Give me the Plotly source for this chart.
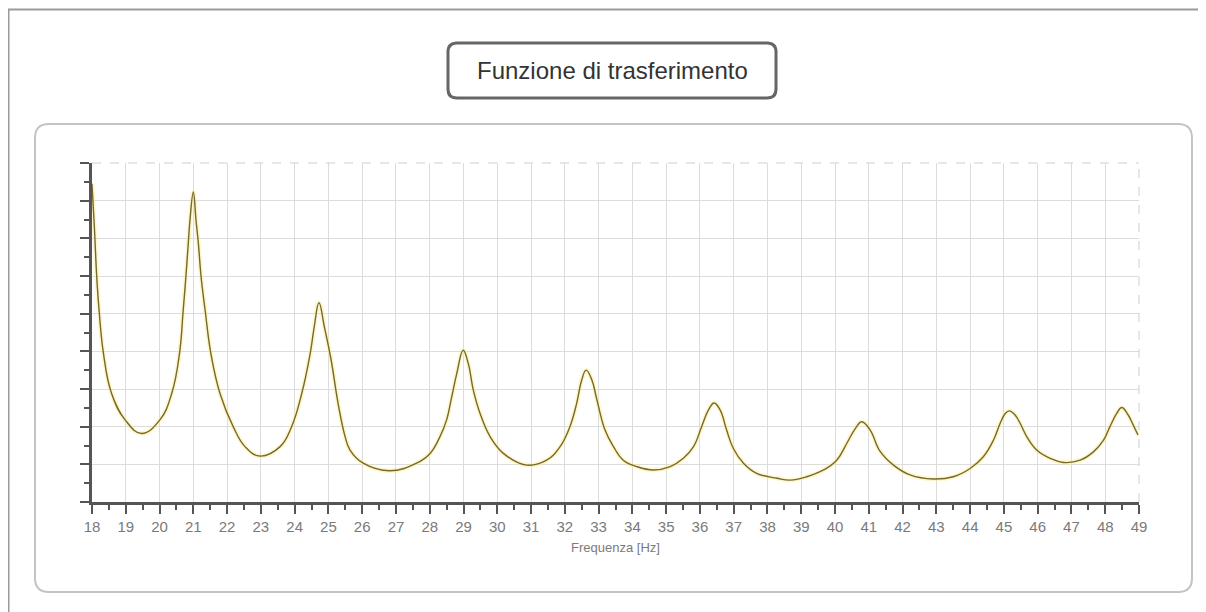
import plotly.graph_objects as go

# ---- data ----
freq_hz = [18.00, 18.07, 18.14, 18.21, 18.34, 18.58, 18.98, 19.47,
           20.01, 20.36, 20.59, 20.70, 20.78, 20.85, 20.90, 21.00,
           21.08, 21.15, 21.23, 21.35, 21.52, 21.79, 22.18, 22.53, 22.97,
           23.57, 23.91, 24.21, 24.46, 24.58, 24.72,
           24.88, 25.08, 25.29, 25.49, 25.64, 26.03, 26.82,
           27.61, 28.01, 28.30, 28.50, 28.65, 28.80, 28.99,
           29.14, 29.29, 29.49, 29.79, 30.18, 30.87,
           31.46, 31.86, 32.15, 32.35, 32.50, 32.63,
           32.80, 32.95, 33.19, 33.44, 33.73, 34.13, 34.62,
           35.12, 35.51, 35.81, 36.05, 36.25, 36.42,
           36.60, 36.79, 36.99, 37.29, 37.68, 38.28, 38.67,
           39.16, 39.66, 40.05, 40.35, 40.60, 40.79,
           41.04, 41.33, 41.73, 42.22, 42.91,
           43.50, 44.00, 44.39, 44.69, 44.89, 45.04, 45.16,
           45.33, 45.48, 45.68, 45.97, 46.37, 46.76,
           47.26, 47.65, 47.95, 48.14, 48.34, 48.49,
           48.68, 48.83, 48.97]

amplitude = [8.45, 7.30, 5.98, 5.09, 3.94, 2.88, 2.18, 1.82,
             2.18, 2.88, 3.94, 5.09, 5.98, 6.86, 7.48, 8.23,
             7.48, 6.86, 5.98, 5.09, 3.94, 2.88, 2.00, 1.47, 1.22,
             1.47, 2.00, 2.88, 3.94, 4.65, 5.29,
             4.65, 3.77, 2.60, 1.75, 1.38, 1.03, 0.83,
             1.03, 1.29, 1.73, 2.18, 2.79, 3.41, 4.03,
             3.68, 2.97, 2.35, 1.73, 1.29, 0.98,
             1.11, 1.47, 2.00, 2.62, 3.24, 3.50,
             3.24, 2.71, 1.91, 1.47, 1.11, 0.94, 0.85,
             0.94, 1.16, 1.47, 2.00, 2.44, 2.63,
             2.44, 1.91, 1.42, 1.03, 0.76, 0.63, 0.58,
             0.67, 0.85, 1.11, 1.56, 1.95, 2.13,
             1.91, 1.35, 0.98, 0.72, 0.61,
             0.67, 0.89, 1.20, 1.64, 2.09, 2.35, 2.42,
             2.31, 2.09, 1.73, 1.38, 1.16, 1.05,
             1.11, 1.33, 1.64, 2.00, 2.35, 2.51,
             2.31, 2.04, 1.78]

x_ticks = list(range(18, 50))
x_tick_labels = [str(v) for v in x_ticks]
title_text = "Funzione di trasferimento"
x_title = "Frequenza [Hz]"

# ---- layout geometry (window pixels; the page body adds an 8px offset) ----
OFF = 8
WIN_W, WIN_H = 1206, 612
W, H = WIN_W - OFF, WIN_H - OFF
PLOT_L, PLOT_R, PLOT_T, PLOT_B = 92, 1139, 163, 502
ML, MT = PLOT_L - OFF, PLOT_T - OFF
MR, MB = W - (PLOT_R - OFF), H - (PLOT_B - OFF)
PW, PH = PLOT_R - PLOT_L, PLOT_B - PLOT_T


def px(x):
    return (x - PLOT_L) / PW


def py(y):
    return (PLOT_B - y) / PH


def rounded_rect(x0, y0, x1, y1, r):
    pts = [
        ("M", [(x0 + r, y0)]), ("L", [(x1 - r, y0)]), ("Q", [(x1, y0), (x1, y0 + r)]),
        ("L", [(x1, y1 - r)]), ("Q", [(x1, y1), (x1 - r, y1)]),
        ("L", [(x0 + r, y1)]), ("Q", [(x0, y1), (x0, y1 - r)]),
        ("L", [(x0, y0 + r)]), ("Q", [(x0, y0), (x0 + r, y0)]),
    ]
    s = ""
    for cmd, coords in pts:
        s += cmd + " " + " ".join(f"{px(a):.5f},{py(b):.5f}" for a, b in coords) + " "
    return s + "Z"


fig = go.Figure()
# soft yellow halo under the curve
fig.add_trace(go.Scatter(x=freq_hz, y=amplitude, mode="lines",
                         line=dict(color="rgba(255,236,140,0.45)", width=4.5, shape="spline", smoothing=1.2),
                         hoverinfo="skip", showlegend=False))
fig.add_trace(go.Scatter(x=freq_hz, y=amplitude, mode="lines",
                         line=dict(color="#75692c", width=1.4, shape="spline", smoothing=1.2),
                         showlegend=False))

shapes = [
    # outer frame lines
    dict(type="line", xref="paper", yref="paper", x0=px(8), y0=py(9.5), x1=px(1206), y1=py(9.5),
         line=dict(color="#9a9a9a", width=2)),
    dict(type="line", xref="paper", yref="paper", x0=px(8.5), y0=py(9), x1=px(8.5), y1=py(612),
         line=dict(color="#9a9a9a", width=2)),
    # inner panel
    dict(type="path", xref="paper", yref="paper", path=rounded_rect(35, 124, 1192, 592, 14),
         line=dict(color="#c4c4c4", width=2), layer="below"),
    # title box
    dict(type="path", xref="paper", yref="paper", path=rounded_rect(448, 43, 776, 98, 9),
         line=dict(color="#666666", width=3), fillcolor="white"),
    # dashed top and right border of the grid
    dict(type="line", xref="paper", yref="paper", x0=0, y0=1, x1=1, y1=1,
         line=dict(color="#cfcfcf", width=1, dash="dash")),
    dict(type="line", xref="paper", yref="paper", x0=1, y0=0, x1=1, y1=1,
         line=dict(color="#cfcfcf", width=1, dash="dash")),
]

fig.update_layout(
    width=W, height=H,
    margin=dict(l=ML, r=MR, t=MT, b=MB, pad=0),
    paper_bgcolor="white", plot_bgcolor="white",
    shapes=shapes,
    annotations=[dict(text=title_text, xref="paper", yref="paper",
                      x=px(612), y=py(70), xanchor="center", yanchor="middle", showarrow=False,
                      font=dict(family="Liberation Sans", size=24, color="#333333"))],
    xaxis=dict(range=[18, 49], tickmode="array", tickvals=x_ticks, ticktext=x_tick_labels,
               showgrid=True, gridcolor="#dcdcdc", gridwidth=1, zeroline=False,
               showline=True, linecolor="#555555", linewidth=3,
               ticks="outside", ticklen=9, tickwidth=2, tickcolor="#555555",
               minor=dict(dtick=0.5, tick0=18, ticks="outside", ticklen=5, tickwidth=2,
                          tickcolor="#555555", showgrid=False),
               tickfont=dict(family="Liberation Sans", size=15, color="#7a7a7a"),
               title=dict(text=x_title, standoff=9,
                          font=dict(family="Liberation Sans", size=13, color="#7a7a7a"))),
    yaxis=dict(range=[0, 9], dtick=1, tick0=0,
               showgrid=True, gridcolor="#dcdcdc", gridwidth=1, zeroline=False,
               showline=True, linecolor="#555555", linewidth=3,
               ticks="outside", ticklen=9, tickwidth=2, tickcolor="#555555",
               minor=dict(dtick=0.5, tick0=0, ticks="outside", ticklen=5, tickwidth=2,
                          tickcolor="#555555", showgrid=False),
               showticklabels=False),
)

fig.write_html("out.html")
